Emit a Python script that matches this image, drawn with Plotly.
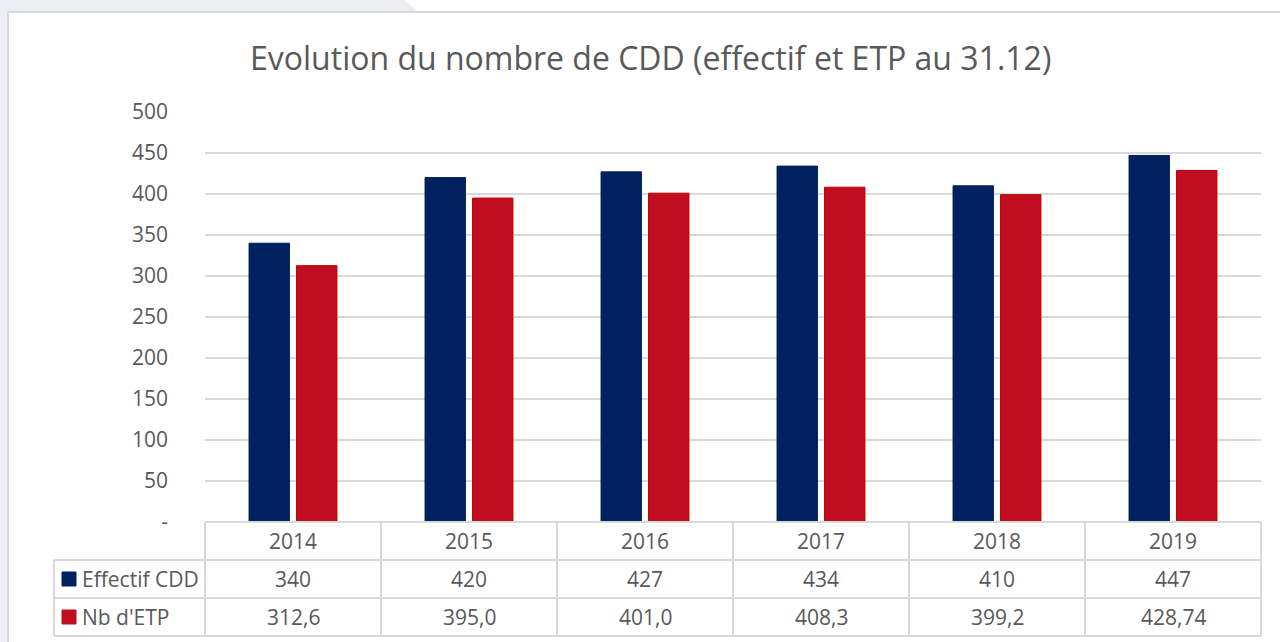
import plotly.graph_objects as go

years = ["2014", "2015", "2016", "2017", "2018", "2019"]
effectif = [340, 420, 427, 434, 410, 447]
etp = [312.6, 395.0, 401.0, 408.3, 399.2, 428.74]
effectif_labels = ["340", "420", "427", "434", "410", "447"]
etp_labels = ["312,6", "395,0", "401,0", "408,3", "399,2", "428,74"]
series_names = ["Effectif CDD", "Nb d'ETP"]
ytick_vals = [0, 50, 100, 150, 200, 250, 300, 350, 400, 450, 500]
ytick_text = ["-", "50", "100", "150", "200", "250", "300", "350", "400", "450", "500"]

BLUE = "#002060"
RED = "#C00D1F"
TXT = "#595959"
GRID = "#D9D9D9"
FONT = "Open Sans"

W, H = 1280, 642
X0, X1 = 205, 1261
YT, YB = 112, 522
PW, PH = X1 - X0, YB - YT


def px(x):
    return (x - X0) / PW


def py(y):
    return (YB - y) / PH


fig = go.Figure()
fig.add_trace(go.Bar(x=years, y=effectif, name=series_names[0],
                     marker=dict(color=BLUE, line=dict(color=BLUE, width=1))))
fig.add_trace(go.Bar(x=years, y=etp, name=series_names[1],
                     marker=dict(color=RED, line=dict(color="#C00000", width=1))))

shapes = []
# background decoration
shapes.append(dict(type="path", xref="paper", yref="paper", layer="below",
                   path=f"M {px(0)},{py(0)} L {px(405)},{py(0)} L {px(418)},{py(12)} L {px(8)},{py(12)} L {px(8)},{py(642)} L {px(0)},{py(642)} Z",
                   fillcolor="#EDEDF6", line=dict(width=0)))
# card border
shapes.append(dict(type="line", xref="paper", yref="paper", layer="below",
                   x0=px(8), x1=px(1280), y0=py(12), y1=py(12), line=dict(color="#D9D9D9", width=2)))
shapes.append(dict(type="line", xref="paper", yref="paper", layer="below",
                   x0=px(8), x1=px(8), y0=py(12), y1=py(642), line=dict(color="#D9D9D9", width=2)))

# table lines
n = len(years)
rows_y = [522, 560, 598, 636]
for i in range(n + 1):
    xp = i / n
    shapes.append(dict(type="line", xref="paper", yref="paper", x0=xp, x1=xp,
                       y0=py(522), y1=py(636), line=dict(color=GRID, width=2)))
shapes.append(dict(type="line", xref="paper", yref="paper", x0=0, x1=1,
                   y0=py(522), y1=py(522), line=dict(color=GRID, width=2)))
for yy in rows_y[1:]:
    shapes.append(dict(type="line", xref="paper", yref="paper", x0=px(54), x1=1,
                       y0=py(yy), y1=py(yy), line=dict(color=GRID, width=2)))
shapes.append(dict(type="line", xref="paper", yref="paper", x0=px(54), x1=px(54),
                   y0=py(560), y1=py(636), line=dict(color=GRID, width=2)))
# legend keys
for col, yc in [(BLUE, 579), (RED, 617)]:
    shapes.append(dict(type="rect", xref="paper", yref="paper", x0=px(62), x1=px(76),
                       y0=py(yc - 7), y1=py(yc + 7), fillcolor=col, line=dict(color=col, width=1)))

TS = 21
annotations = []
for i, yr in enumerate(years):
    for text, yc in [(yr, 541), (effectif_labels[i], 579), (etp_labels[i], 617)]:
        annotations.append(dict(x=i, xref="x", y=py(yc), yref="paper", text=text, showarrow=False,
                                font=dict(family=FONT, size=TS, color=TXT), xanchor="center", yanchor="middle"))
for name, yc in zip(series_names, [579, 617]):
    annotations.append(dict(x=px(80), xref="paper", y=py(yc), yref="paper", text=name, showarrow=False,
                            font=dict(family=FONT, size=TS, color=TXT), xanchor="left", yanchor="middle"))
annotations.append(dict(x=px(650), xref="paper", y=py(57), yref="paper",
                        text="Evolution du nombre de CDD (effectif et ETP au 31.12)", showarrow=False,
                        font=dict(family=FONT, size=32, color=TXT), xanchor="center", yanchor="middle"))

fig.update_layout(
    width=W, height=H,
    margin=dict(l=X0, r=W - X1, t=YT, b=H - YB),
    paper_bgcolor="white", plot_bgcolor="white",
    showlegend=False,
    barmode="group", bargap=0.46, bargroupgap=0.15,
    shapes=shapes, annotations=annotations,
    font=dict(family=FONT, color=TXT),
)
fig.update_xaxes(type="category", range=[-0.5, 5.5], showticklabels=False, showgrid=False,
                 zeroline=False, showline=False, ticks="")
fig.update_yaxes(range=[0, 500], tickvals=ytick_vals, ticktext=ytick_text,
                 showgrid=True, gridcolor=GRID, gridwidth=2, zeroline=False, showline=False,
                 ticks="", ticklabelstandoff=36,
                 tickfont=dict(family=FONT, size=TS, color=TXT))

fig.write_html("out.html", config={"displayModeBar": False},
               post_script="document.body.style.margin='0';document.body.style.padding='0';")
